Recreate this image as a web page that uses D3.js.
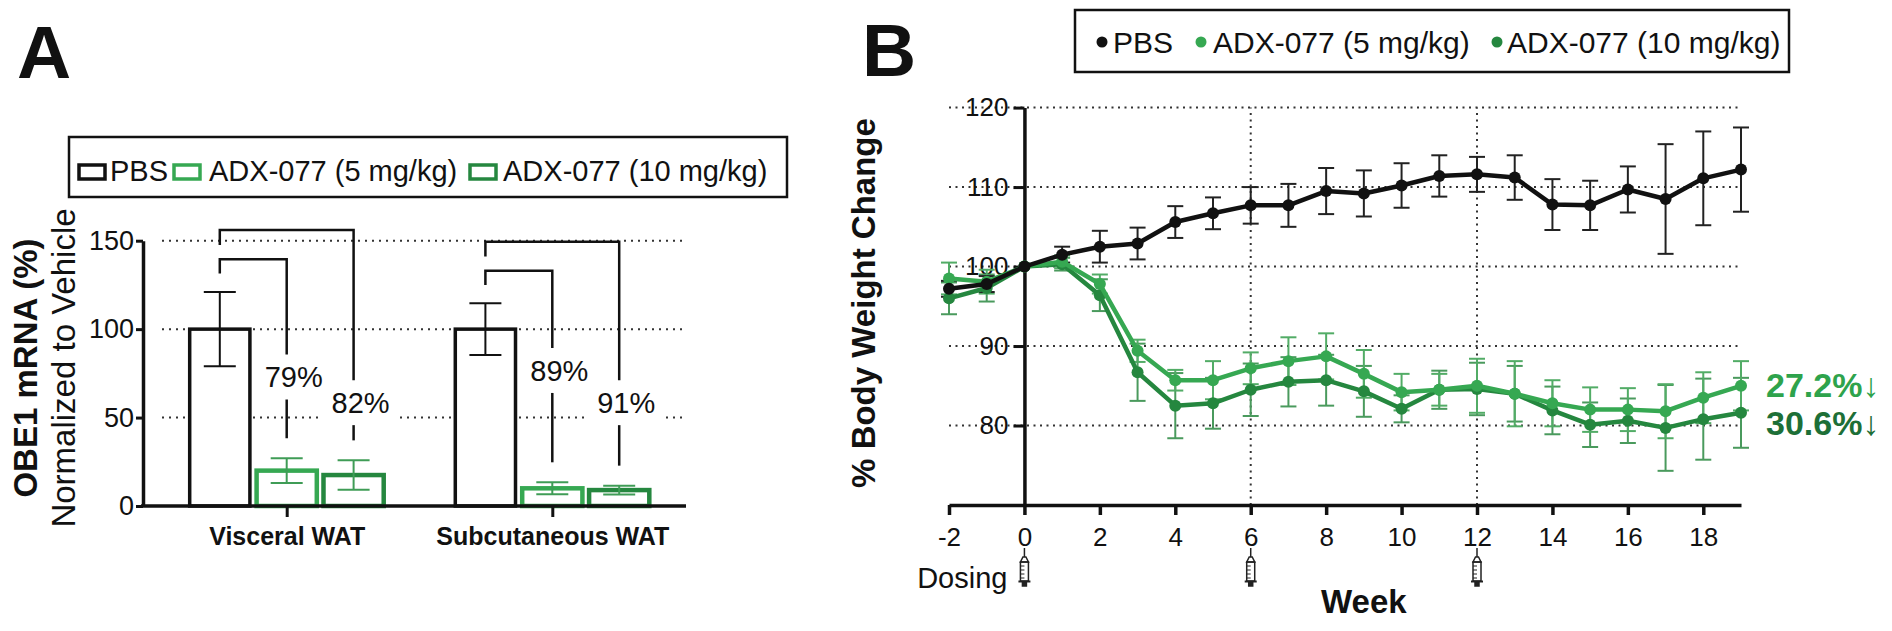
<!DOCTYPE html>
<meta charset="utf-8">
<script src="https://d3js.org/d3.v7.min.js"></script>
<style>
  body { margin: 0; background: #fff; }
  text { font-family: "Liberation Sans", Arial, sans-serif; fill: #111; }
</style>
<div id="chart"></div>
<script>

// ---------- data : panel A (OBE1 mRNA) ----------
var tissues = ["Visceral WAT", "Subcutaneous WAT"];
var groups = ["PBS", "ADX-077 (5 mg/kg)", "ADX-077 (10 mg/kg)"];
var pbsMrna = [100, 100];
var pbsMrnaErr = [21, 14.6];
var adx5Mrna = [20, 10];
var adx5MrnaErr = [7, 3.4];
var adx10Mrna = [17.5, 9];
var adx10MrnaErr = [8.3, 2.5];
var reduction5 = ["79%", "89%"];
var reduction10 = ["82%", "91%"];
var mrnaTicks = [0, 50, 100, 150];

// ---------- data : panel B (body weight) ----------
var weeks = [-2, -1, 0, 1, 2, 3, 4, 5, 6, 7, 8, 9, 10, 11, 12, 13, 14, 15, 16, 17, 18, 19];
var pbsWeight = [97.2, 97.8, 100, 101.5, 102.5, 102.9, 105.6, 106.7, 107.7, 107.7, 109.5, 109.2, 110.2, 111.4, 111.6, 111.2, 107.8, 107.7, 109.7, 108.5, 111.1, 112.2];
var pbsWeightErr = [1.0, 1.0, 0, 1.0, 2.0, 2.0, 2.0, 2.0, 2.3, 2.7, 2.9, 2.9, 2.8, 2.6, 2.2, 2.8, 3.2, 3.1, 2.9, 6.9, 5.9, 5.3];
var adx5Weight = [98.5, 98.1, 100, 100.6, 97.8, 89.4, 85.7, 85.7, 87.2, 88.1, 88.7, 86.5, 84.2, 84.5, 85.0, 84.0, 82.8, 82.0, 82.0, 81.8, 83.5, 85.0];
var adx5WeightErr = [2.0, 1.5, 0, 0.8, 1.2, 1.4, 1.3, 2.4, 2.0, 3.0, 2.9, 3.0, 2.3, 2.0, 3.4, 4.1, 2.9, 2.8, 2.7, 3.4, 3.2, 3.1];
var adx10Weight = [96.0, 97.3, 100, 100.3, 96.4, 86.7, 82.5, 82.8, 84.5, 85.5, 85.7, 84.3, 82.1, 84.5, 84.6, 84.0, 81.9, 80.1, 80.6, 79.7, 80.8, 81.6];
var adx10WeightErr = [2.0, 1.7, 0, 0.8, 2.0, 3.6, 4.1, 3.2, 3.3, 3.1, 3.2, 3.2, 1.7, 2.4, 3.3, 3.5, 3.0, 2.8, 2.8, 5.4, 5.1, 4.4];
var weightTicks = [80, 90, 100, 110, 120];
var weekTicks = [-2, 0, 2, 4, 6, 8, 10, 12, 14, 16, 18];
var dosingWeeks = [0, 6, 12];
var lossLabels = ["27.2%", "30.6%"];

// colours
var black = "#111";
var green5 = "#36a852";
var green10 = "#25873f";

var svg = d3.select("#chart").append("svg")
    .attr("width", 1892)
    .attr("height", 631);
svg.append("rect").attr("width", 1892).attr("height", 631).attr("fill", "#fff");

// ================= PANEL A =================
var gA = svg.append("g");

gA.append("text").attr("x", 17).attr("y", 78)
  .style("font-size", "75px").style("font-weight", "bold").text("A");

var yA = d3.scaleLinear().domain([0, 150]).range([506, 240.7]);
var xA = d3.scalePoint().domain(tissues).range([286.7, 552.3]);
var xIn = d3.scaleBand().domain(groups).range([-100.35, 100.35])
    .paddingInner(0.1).paddingOuter(0.05);

// dotted grid
gA.selectAll(".gridA").data(mrnaTicks.filter(function(d) { return d > 0; }))
  .enter().append("line")
    .attr("x1", 162).attr("x2", 682)
    .attr("y1", function(d) { return yA(d); })
    .attr("y2", function(d) { return yA(d); })
    .attr("stroke", "#333").attr("stroke-width", 2)
    .attr("stroke-dasharray", "2,5");

var barSets = [
  { name: groups[0], mean: pbsMrna, err: pbsMrnaErr, color: black, sw: 3.5, ec: black },
  { name: groups[1], mean: adx5Mrna, err: adx5MrnaErr, color: green5, sw: 4.5, ec: "#3f9c56" },
  { name: groups[2], mean: adx10Mrna, err: adx10MrnaErr, color: green10, sw: 4.5, ec: "#3f9c56" }
];

barSets.forEach(function(s) {
  tissues.forEach(function(t, i) {
    var x0 = xA(t) + xIn(s.name);
    gA.append("rect")
      .attr("x", x0).attr("width", xIn.bandwidth())
      .attr("y", yA(s.mean[i]))
      .attr("height", yA(0) - yA(s.mean[i]))
      .attr("fill", "#fff").attr("stroke", s.color).attr("stroke-width", s.sw);
  });
});

barSets.forEach(function(s) {
  tissues.forEach(function(t, i) {
    var cx = xA(t) + xIn(s.name) + xIn.bandwidth() / 2;
    var hi = yA(s.mean[i] + s.err[i]), lo = yA(s.mean[i] - s.err[i]);
    var eb = gA.append("g").attr("stroke", s.ec).attr("stroke-width", 2);
    eb.append("line").attr("x1", cx).attr("x2", cx).attr("y1", hi).attr("y2", lo);
    eb.append("line").attr("x1", cx - 16).attr("x2", cx + 16).attr("y1", hi).attr("y2", hi);
    eb.append("line").attr("x1", cx - 16).attr("x2", cx + 16).attr("y1", lo).attr("y2", lo);
  });
});

// significance brackets (PBS vs each dose)
var bracketLayout = [
  // [tissue index, group index, top value, left-leg end value, label baseline value]
  [0, 2, 156, 147.5, 52.5],
  [0, 1, 139.5, 131.5, 67],
  [1, 2, 149.4, 141, 52.5],
  [1, 1, 133, 125, 70.7]
];
bracketLayout.forEach(function(b) {
  var t = tissues[b[0]], s = barSets[b[1]];
  var xl = xA(t) + xIn(groups[0]) + xIn.bandwidth() / 2;
  var xr = xA(t) + xIn(s.name) + xIn.bandwidth() / 2;
  var top = yA(b[2]), base = yA(b[4]);
  var segEnd = yA(s.mean[b[0]] + s.err[b[0]]) - 20;
  var label = b[1] === 1 ? reduction5[b[0]] : reduction10[b[0]];
  var br = gA.append("g").attr("stroke", black).attr("stroke-width", 2.5).attr("fill", "none");
  br.append("path").attr("d", "M" + xl + "," + yA(b[3]) + "V" + top + "H" + xr + "V" + (base - 33));
  br.append("line").attr("x1", xr).attr("x2", xr).attr("y1", base + 12).attr("y2", segEnd);
  gA.append("rect").attr("x", xr + 7 - 38).attr("y", base - 24)
    .attr("width", 76).attr("height", 30).attr("fill", "#fff");
  gA.append("text").attr("x", xr + 7).attr("y", base)
    .attr("text-anchor", "middle").style("font-size", "29px").text(label);
});

// axes
var axA = gA.append("g").attr("transform", "translate(143,0)")
  .call(d3.axisLeft(yA).tickValues(mrnaTicks).tickSize(7).tickSizeOuter(0).tickPadding(2));
axA.select(".domain").attr("stroke", black).attr("stroke-width", 3.5);
axA.selectAll(".tick line").attr("stroke", black).attr("stroke-width", 3);
axA.selectAll(".tick text").style("font-size", "27px").attr("fill", "#222")
  .style("font-family", "Liberation Sans, Arial, sans-serif");

gA.append("line").attr("x1", 141).attr("x2", 686).attr("y1", yA(0)).attr("y2", yA(0))
  .attr("stroke", black).attr("stroke-width", 3.5);
var axAx = gA.append("g").attr("transform", "translate(0," + yA(0) + ")")
  .call(d3.axisBottom(xA).tickSize(11).tickSizeOuter(0).tickPadding(10));
axAx.select(".domain").remove();
axAx.selectAll(".tick line").attr("stroke", black).attr("stroke-width", 3);
axAx.selectAll(".tick text").style("font-size", "25px").style("font-weight", "bold")
  .style("font-family", "Liberation Sans, Arial, sans-serif").attr("fill", "#111");

// y title
gA.append("text").attr("transform", "translate(37,368) rotate(-90)")
  .attr("text-anchor", "middle").style("font-size", "33px").style("font-weight", "bold")
  .text("OBE1 mRNA (%)");
gA.append("text").attr("transform", "translate(75,368) rotate(-90)")
  .attr("text-anchor", "middle").style("font-size", "33px")
  .text("Normalized to Vehicle");

// legend A
gA.append("rect").attr("x", 69).attr("y", 137).attr("width", 718).attr("height", 60)
  .attr("fill", "none").attr("stroke", black).attr("stroke-width", 2.5);
var legA = [
  { sq: 79, tx: 110, color: black },
  { sq: 174, tx: 209, color: green5 },
  { sq: 470, tx: 503, color: green10 }
];
legA.forEach(function(l, i) {
  gA.append("rect").attr("x", l.sq).attr("y", 165).attr("width", 26).attr("height", 14)
    .attr("fill", "#fff").attr("stroke", l.color).attr("stroke-width", 3.5);
  gA.append("text").attr("x", l.tx).attr("y", 181).style("font-size", "29px").text(groups[i]);
});

// ================= PANEL B =================
var gB = svg.append("g");

gB.append("text").attr("x", 862).attr("y", 76)
  .style("font-size", "75px").style("font-weight", "bold").text("B");

var xB = d3.scaleLinear().domain([-2, 19]).range([949, 1741]);
var yB = d3.scaleLinear().domain([70, 120]).range([505, 107.6]);

// grid
gB.selectAll(".gridBh").data(weightTicks).enter().append("line")
  .attr("x1", xB(-2)).attr("x2", xB(19))
  .attr("y1", function(d) { return yB(d); })
  .attr("y2", function(d) { return yB(d); })
  .attr("stroke", "#333").attr("stroke-width", 2).attr("stroke-dasharray", "2,4.5");
gB.selectAll(".gridBv").data(dosingWeeks.filter(function(d) { return d > 0; })).enter().append("line")
  .attr("x1", function(d) { return xB(d); })
  .attr("x2", function(d) { return xB(d); })
  .attr("y1", yB(70)).attr("y2", yB(120))
  .attr("stroke", "#333").attr("stroke-width", 2).attr("stroke-dasharray", "2,4.5");

// axes
var axBy = gB.append("g").attr("transform", "translate(" + xB(0) + ",0)")
  .call(d3.axisLeft(yB).tickValues(weightTicks).tickSize(11).tickSizeOuter(0).tickPadding(5));
axBy.select(".domain").attr("stroke", black).attr("stroke-width", 3.5);
axBy.selectAll(".tick line").attr("stroke", black).attr("stroke-width", 3);
axBy.selectAll(".tick text").style("font-size", "26px").attr("fill", "#222")
  .style("font-family", "Liberation Sans, Arial, sans-serif");

var axBx = gB.append("g").attr("transform", "translate(0," + yB(70) + ")")
  .call(d3.axisBottom(xB).tickValues(weekTicks).tickSize(10).tickSizeOuter(0).tickPadding(13)
    .tickFormat(function(d) { return String(d); }));
axBx.select(".domain").attr("stroke", black).attr("stroke-width", 3.5);
axBx.selectAll(".tick line").attr("stroke", black).attr("stroke-width", 3.5);
axBx.selectAll(".tick text").style("font-size", "26px").attr("fill", "#222")
  .style("font-family", "Liberation Sans, Arial, sans-serif");

// series
var lineSets = [
  { mean: adx10Weight, err: adx10WeightErr, color: green10, ec: "#4a9a5d" },
  { mean: adx5Weight, err: adx5WeightErr, color: green5, ec: "#52ac66" },
  { mean: pbsWeight, err: pbsWeightErr, color: black, ec: "#222" }
];
var line = d3.line()
  .x(function(d) { return xB(d[0]); })
  .y(function(d) { return yB(d[1]); });

lineSets.forEach(function(s) {
  var eg = gB.append("g").attr("stroke", s.ec).attr("stroke-width", 2);
  weeks.forEach(function(w, i) {
    if (s.err[i] === 0) return;
    var cx = xB(w), hi = yB(s.mean[i] + s.err[i]), lo = yB(s.mean[i] - s.err[i]);
    eg.append("line").attr("x1", cx).attr("x2", cx).attr("y1", hi).attr("y2", lo);
    eg.append("line").attr("x1", cx - 8).attr("x2", cx + 8).attr("y1", hi).attr("y2", hi);
    eg.append("line").attr("x1", cx - 8).attr("x2", cx + 8).attr("y1", lo).attr("y2", lo);
  });
});
lineSets.forEach(function(s) {
  var pts = weeks.map(function(w, i) { return [w, s.mean[i]]; });
  gB.append("path").datum(pts).attr("d", line)
    .attr("fill", "none").attr("stroke", s.color).attr("stroke-width", 4.5)
    .attr("stroke-linejoin", "round");
  gB.selectAll(null).data(pts).enter().append("circle")
    .attr("cx", function(d) { return xB(d[0]); })
    .attr("cy", function(d) { return yB(d[1]); })
    .attr("r", 6).attr("fill", s.color);
});

// end-point labels
[[adx5Weight, "#2ea34c", lossLabels[0], 11], [adx10Weight, "#1d6f37", lossLabels[1], 22]].forEach(function(a) {
  var last = a[0][a[0].length - 1];
  var t = gB.append("text").attr("x", xB(19) + 25).attr("y", yB(last) + a[3])
    .style("font-size", "34px").style("font-weight", "bold").style("fill", a[1]);
  t.append("tspan").text(a[2]);
  t.append("tspan").style("font-weight", "normal").style("fill", a[1]).text("\u2193");
});

// titles
gB.append("text").attr("transform", "translate(875,303) rotate(-90)")
  .attr("text-anchor", "middle").style("font-size", "33px").style("font-weight", "bold")
  .text("% Body Weight Change");
gB.append("text").attr("x", xB(9)).attr("y", 613).attr("text-anchor", "middle")
  .style("font-size", "33px").style("font-weight", "bold").text("Week");
gB.append("text").attr("x", xB(0) - 17).attr("y", 588).attr("text-anchor", "end")
  .style("font-size", "29px").text("Dosing");

// syringes at dosing weeks
dosingWeeks.forEach(function(w) {
  var cx = xB(w);
  var s = gB.append("g").attr("stroke", "#222").attr("fill", "none").attr("stroke-width", 1.5);
  s.append("line").attr("x1", cx).attr("x2", cx).attr("y1", 548).attr("y2", 557);
  s.append("path").attr("d", "M" + (cx - 1.5) + ",557L" + (cx + 1.5) + ",557L" + (cx + 4) + ",562L" + (cx - 4) + ",562Z");
  s.append("rect").attr("x", cx - 4).attr("y", 562).attr("width", 8).attr("height", 19);
  [566, 570, 574, 578].forEach(function(y) {
    s.append("line").attr("x1", cx - 4).attr("x2", cx).attr("y1", y).attr("y2", y).attr("stroke-width", 1);
  });
  s.append("line").attr("x1", cx - 6).attr("x2", cx + 6).attr("y1", 581.5).attr("y2", 581.5).attr("stroke-width", 2);
  s.append("rect").attr("x", cx - 2).attr("y", 582).attr("width", 4).attr("height", 4).attr("fill", "#222");
});

// legend B
gB.append("rect").attr("x", 1075).attr("y", 10).attr("width", 714).attr("height", 62)
  .attr("fill", "none").attr("stroke", black).attr("stroke-width", 2.5);
var legB = [
  { cx: 1102, tx: 1113, color: black },
  { cx: 1201, tx: 1213, color: green5 },
  { cx: 1497, tx: 1507, color: green10 }
];
legB.forEach(function(l, i) {
  gB.append("circle").attr("cx", l.cx).attr("cy", 42).attr("r", 5.5).attr("fill", l.color);
  gB.append("text").attr("x", l.tx).attr("y", 53).style("font-size", "30px").text(groups[i]);
});

</script>
